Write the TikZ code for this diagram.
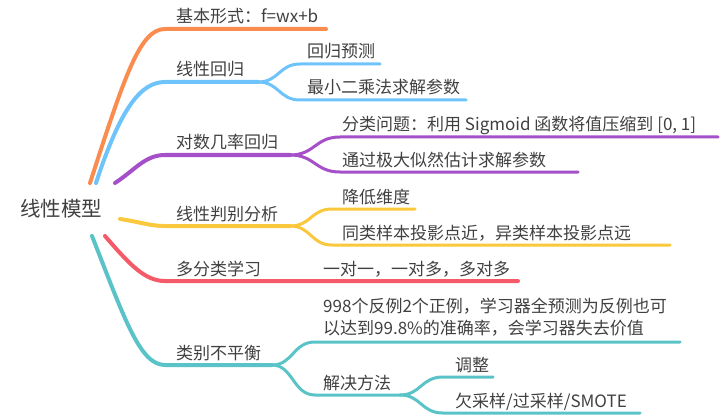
\documentclass[tikz,border=0pt]{standalone}
\usepackage{fontspec}
\setmainfont{Noto Sans CJK SC}
\definecolor{corange}{RGB}{250,140,80}
\definecolor{cblue}{RGB}{110,195,250}
\definecolor{cpurple}{RGB}{165,80,200}
\definecolor{cyellow}{RGB}{250,200,60}
\definecolor{cred}{RGB}{245,90,105}
\definecolor{cteal}{RGB}{90,195,200}
\definecolor{txt}{RGB}{64,64,64}
\begin{document}
\begin{tikzpicture}[x=1pt,y=-1pt,
  lbl/.style={anchor=base west,inner sep=0pt,font=\fontsize{17}{22}\selectfont,text=txt},
  rootlbl/.style={anchor=center,inner sep=0pt,font=\fontsize{20.5}{24}\selectfont,text=txt},
  mainbr/.style={line width=4pt,line cap=round},
  subbr/.style={line width=3pt,line cap=round}]
\useasboundingbox (0,0) rectangle (720,417);
\node[rootlbl] (root) at (61,209) {线性模型};
% coordinates
\coordinate (o0) at (90,183); \coordinate (o1) at (165,29); \coordinate (o2) at (326,29);
\coordinate (b0) at (96,183); \coordinate (b1) at (165,82); \coordinate (b2) at (258,82);
\coordinate (b3) at (300,64); \coordinate (b4) at (380,64);
\coordinate (b5) at (300,100); \coordinate (b6) at (466,100);
\coordinate (p0) at (115,183); \coordinate (p1) at (165,155); \coordinate (p2) at (290,155);
\coordinate (p3) at (340,137); \coordinate (p4) at (718,137);
\coordinate (p5) at (340,172); \coordinate (p6) at (578,172);
\coordinate (y0) at (120,219); \coordinate (y1) at (165,226); \coordinate (y2) at (290,226);
\coordinate (y3) at (332,209); \coordinate (y4) at (415,209);
\coordinate (y5) at (332,245); \coordinate (y6) at (670,245);
\coordinate (r0) at (105,236); \coordinate (r1) at (165,281); \coordinate (r2) at (518,281);
\coordinate (t0) at (92,236); \coordinate (t1) at (165,365); \coordinate (t2) at (272,365);
\coordinate (t3) at (315,342); \coordinate (t4) at (680,342);
\coordinate (t5) at (315,395); \coordinate (t6) at (400,395);
\coordinate (t7) at (443,377); \coordinate (t8) at (493,377);
\coordinate (t9) at (443,413); \coordinate (t10) at (640,413);
% branches
\draw[mainbr,corange] (o0) .. controls (125,75) and (140,29) .. (o1) -- (o2);
\draw[mainbr,cblue] (b0) .. controls (120,110) and (140,82) .. (b1) -- (b2);
\draw[subbr,cblue] (b2) .. controls (279,82) and (279,64) .. (b3) -- (b4);
\draw[subbr,cblue] (b2) .. controls (279,82) and (279,100) .. (b5) -- (b6);
\draw[mainbr,cpurple] (p0) .. controls (135,170) and (145,155) .. (p1) -- (p2);
\draw[subbr,cpurple] (p2) .. controls (315,155) and (315,137) .. (p3) -- (p4);
\draw[subbr,cpurple] (p2) .. controls (315,155) and (315,172) .. (p5) -- (p6);
\draw[mainbr,cyellow] (y0) .. controls (140,222) and (150,226) .. (y1) -- (y2);
\draw[subbr,cyellow] (y2) .. controls (311,226) and (311,209) .. (y3) -- (y4);
\draw[subbr,cyellow] (y2) .. controls (311,226) and (311,245) .. (y5) -- (y6);
\draw[mainbr,cred] (r0) .. controls (130,265) and (145,281) .. (r1) -- (r2);
\draw[mainbr,cteal] (t0) .. controls (125,320) and (140,365) .. (t1) -- (t2);
\draw[subbr,cteal] (t2) .. controls (293,365) and (293,342) .. (t3) -- (t4);
\draw[subbr,cteal] (t2) .. controls (293,365) and (293,395) .. (t5) -- (t6);
\draw[subbr,cteal] (t6) .. controls (421,395) and (421,377) .. (t7) -- (t8);
\draw[subbr,cteal] (t6) .. controls (421,395) and (421,413) .. (t9) -- (t10);
% labels
\node[lbl] (l1) at (176,23) {基本形式：f=wx+b};
\node[lbl] (l2) at (176,76) {线性回归};
\node[lbl] (l21) at (307,58) {回归预测};
\node[lbl] (l22) at (307,94) {最小二乘法求解参数};
\node[lbl] (l3) at (176,149) {对数几率回归};
\node[lbl] (l31) at (342,131) {分类问题：利用 Sigmoid 函数将值压缩到 [0, 1]};
\node[lbl] (l32) at (342,166) {通过极大似然估计求解参数};
\node[lbl] (l4) at (176,220) {线性判别分析};
\node[lbl] (l41) at (342,203) {降低维度};
\node[lbl] (l42) at (342,239) {同类样本投影点近，异类样本投影点远};
\node[lbl] (l5) at (176,275) {多分类学习};
\node[lbl] (l51) at (323,275) {一对一，一对多，多对多};
\node[lbl] (l6) at (176,359) {类别不平衡};
\node[lbl,align=left] (l61) at (323,334) {998个反例2个正例，学习器全预测为反例也可\\以达到99.8\%的准确率，会学习器失去价值};
\node[lbl] (l62) at (323,389) {解决方法};
\node[lbl] (l621) at (455,371) {调整};
\node[lbl] (l622) at (455,407) {欠采样/过采样/SMOTE};
\end{tikzpicture}
\end{document}
